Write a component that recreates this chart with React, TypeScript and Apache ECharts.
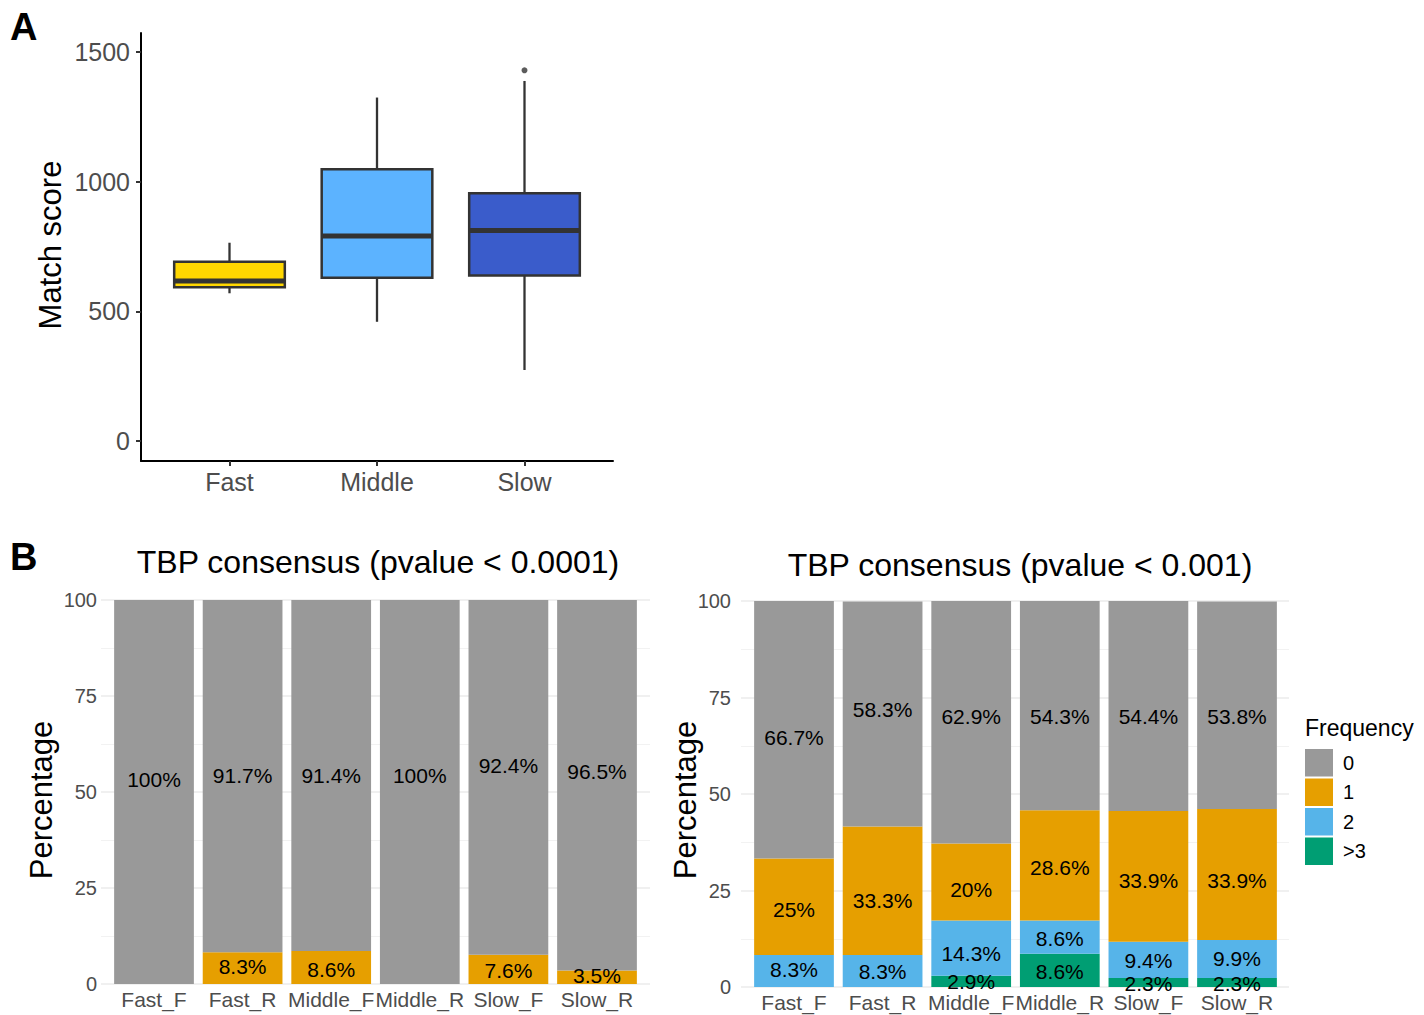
import React, { useEffect, useRef } from "react";
import * as echarts from "echarts";

// ---------- Panel A: box plot data ----------
const boxGroups = ["Fast", "Middle", "Slow"];
const boxMin = [570, 460, 274];
const boxQ1 = [593, 630, 639];
const boxMedian = [617, 791, 812];
const boxQ3 = [692, 1048, 956];
const boxMax = [765, 1325, 1389];
const boxColors = ["#FFD700", "#5CB3FF", "#3A5CCB"];
const outlierGroup = [3];
const outlierValue = [1430];
const scoreTicks = [0, 500, 1000, 1500];

// ---------- Panel B data ----------
const samples = ["Fast_F", "Fast_R", "Middle_F", "Middle_R", "Slow_F", "Slow_R"];
const freqLevels = ["0", "1", "2", ">3"];
const freqColors = ["#999999", "#E69F00", "#56B4E9", "#009E73"];
const percentTicks = [0, 25, 50, 75, 100];

// left: TBP consensus (pvalue < 0.0001)
const strict0 = [100, 91.7, 91.4, 100, 92.4, 96.5];
const strict1 = [0, 8.3, 8.6, 0, 7.6, 3.5];
const strictLabelY0 = [53.2, 54.2, 54.2, 54.2, 56.8, 55.3];
const strictLabelY1 = [null, 4.5, 3.8, null, 3.6, 2.3];

// right: TBP consensus (pvalue < 0.001)
const loose0 = [66.7, 58.3, 62.9, 54.3, 54.4, 53.8];
const loose1 = [25, 33.3, 20, 28.6, 33.9, 33.9];
const loose2 = [8.3, 8.3, 14.3, 8.6, 9.4, 9.9];
const loose3 = [0, 0, 2.9, 8.6, 2.3, 2.3];
const looseLabelY0 = [64.6, 72.0, 70.2, 70.2, 70.2, 70.2];
const looseLabelY1 = [20.1, 22.5, 25.2, 30.9, 27.7, 27.7];
const looseLabelY2 = [4.5, 3.9, 8.6, 12.5, 6.9, 7.3];
const looseLabelY3 = [null, null, 1.3, 3.9, 1.0, 1.0];

const FONT = "'Liberation Sans', Arial, Helvetica, sans-serif";
const AXIS_TEXT = "#4D4D4D";

function labelPoints(values: number[], ys: (number | null)[]) {
  const out: any[] = [];
  values.forEach((v, i) => {
    const y = ys[i];
    if (y !== null && v > 0) out.push([i, y, `${v}%`]);
  });
  return out;
}

function barSeries(name: string, data: number[], colorIdx: number, axis: number) {
  return {
    type: "bar",
    name,
    xAxisIndex: axis,
    yAxisIndex: axis,
    stack: "s" + axis,
    barWidth: "90%",
    data,
    itemStyle: { color: freqColors[colorIdx] },
    silent: true,
  };
}

function labelSeries(data: any[], axis: number) {
  return {
    type: "custom",
    xAxisIndex: axis,
    yAxisIndex: axis,
    data,
    silent: true,
    z: 10,
    encode: { x: 0, y: 1 },
    renderItem: (params: any, api: any) => {
      const p = api.coord([api.value(0), api.value(1)]);
      return {
        type: "text",
        x: p[0],
        y: p[1],
        style: {
          text: data[params.dataIndex][2],
          fontSize: 21,
          fontFamily: FONT,
          fill: "#000",
          align: "center",
          verticalAlign: "middle",
        },
      };
    },
  };
}

function bgYAxis(grid: number, margin: number) {
  return {
    type: "value",
    gridIndex: grid,
    min: 0,
    max: 100,
    interval: 25,
    axisLine: { show: false },
    axisTick: { show: false },
    axisLabel: { fontSize: 20, color: AXIS_TEXT, fontFamily: FONT, margin },
    splitLine: { show: true, lineStyle: { color: "#EBEBEB", width: 1.6 } },
    minorTick: { show: false, splitNumber: 2 },
    minorSplitLine: { show: true, lineStyle: { color: "#F0F0F0", width: 0.9 } },
  };
}

function hiddenValueAxis(grid: number) {
  return { type: "value", gridIndex: grid, min: 0, max: 1, show: false };
}

function barXAxis(grid: number, margin: number) {
  return {
    type: "category",
    gridIndex: grid,
    data: samples,
    boundaryGap: true,
    axisLine: { show: false },
    axisTick: { show: false },
    axisLabel: { interval: 0, fontSize: 21, color: AXIS_TEXT, fontFamily: FONT, margin },
    splitLine: { show: false },
  };
}

function barYAxis(grid: number) {
  return { type: "value", gridIndex: grid, min: 0, max: 100, show: false, splitLine: { show: false } };
}

function txt(text: string, x: number, y: number, fontSize: number, opts: any = {}) {
  return {
    type: "text",
    x,
    y,
    rotation: opts.rotation || 0,
    silent: true,
    style: {
      text,
      x: 0,
      y: 0,
      fontSize,
      fontFamily: FONT,
      fontWeight: opts.bold ? "bold" : "normal",
      fill: "#000",
      align: opts.align || "center",
      textAlign: opts.align || "center",
      verticalAlign: "middle",
      textVerticalAlign: "middle",
    },
  };
}

export default function App() {
  const ref = useRef<HTMLDivElement>(null);

  useEffect(() => {
    if (!ref.current) return;
    const chart = echarts.init(ref.current, undefined, { renderer: "svg" });

    const boxData = boxGroups.map((g, i) => [i + 1, boxMin[i], boxQ1[i], boxMedian[i], boxQ3[i], boxMax[i]]);
    const outlierData = outlierGroup.map((g, i) => [g, outlierValue[i]]);

    const option: any = {
      animation: false,
      backgroundColor: "#fff",
      textStyle: { fontFamily: FONT },
      grid: [
        { left: 141, top: 33, width: 472, height: 428, containLabel: false, outerBoundsMode: "none" },
        { left: 101, top: 600, width: 549, height: 384, containLabel: false, outerBoundsMode: "none" },
        { left: 109.7, top: 600, width: 531.6, height: 384, containLabel: false, outerBoundsMode: "none" },
        { left: 741, top: 601, width: 548, height: 386, containLabel: false, outerBoundsMode: "none" },
        { left: 749.7, top: 601, width: 531.6, height: 386, containLabel: false, outerBoundsMode: "none" },
      ],
      xAxis: [
        {
          type: "value",
          gridIndex: 0,
          min: 0.4,
          max: 3.6,
          axisLine: { show: true, onZero: false, lineStyle: { color: "#000", width: 2 } },
          axisTick: { show: true, customValues: [1, 2, 3], length: 5, lineStyle: { color: "#333", width: 2 } },
          axisLabel: {
            customValues: [1, 2, 3],
            formatter: (v: number) => boxGroups[Math.round(v) - 1] || "",
            fontSize: 25,
            color: AXIS_TEXT,
            fontFamily: FONT,
            margin: 8,
          },
          splitLine: { show: false },
        },
        hiddenValueAxis(1),
        barXAxis(2, 5),
        hiddenValueAxis(3),
        barXAxis(4, 5),
      ],
      yAxis: [
        {
          type: "value",
          gridIndex: 0,
          min: -77,
          max: 1574,
          axisLine: { show: true, lineStyle: { color: "#000", width: 2 } },
          axisTick: { show: true, customValues: scoreTicks, length: 5, lineStyle: { color: "#333", width: 2 } },
          axisLabel: {
            customValues: scoreTicks,
            formatter: (v: number) => String(v),
            fontSize: 25,
            color: AXIS_TEXT,
            fontFamily: FONT,
            margin: 11,
          },
          splitLine: { show: false },
        },
        bgYAxis(1, 4),
        barYAxis(2),
        bgYAxis(3, 10),
        barYAxis(4),
      ],
      legend: {
        data: freqLevels,
        orient: "vertical",
        left: 1305,
        top: 749,
        padding: 0,
        itemWidth: 28,
        itemHeight: 27.5,
        itemGap: 2,
        icon: "rect",
        selectedMode: false,
        textStyle: { fontSize: 20, color: "#000", fontFamily: FONT, padding: [0, 0, 0, 5] },
      },
      series: [
        {
          type: "custom",
          xAxisIndex: 0,
          yAxisIndex: 0,
          data: boxData,
          encode: { x: 0, y: [1, 2, 3, 4, 5] },
          silent: true,
          renderItem: (params: any, api: any) => {
            const x = api.value(0);
            const lo = api.coord([x, api.value(1)]);
            const q1 = api.coord([x, api.value(2)]);
            const med = api.coord([x, api.value(3)]);
            const q3 = api.coord([x, api.value(4)]);
            const hi = api.coord([x, api.value(5)]);
            const w = api.size([0.75, 0])[0];
            const stroke = "#333333";
            return {
              type: "group",
              children: [
                { type: "line", shape: { x1: hi[0], y1: hi[1], x2: q3[0], y2: q3[1] }, style: { stroke, lineWidth: 2.3 } },
                { type: "line", shape: { x1: q1[0], y1: q1[1], x2: lo[0], y2: lo[1] }, style: { stroke, lineWidth: 2.3 } },
                {
                  type: "rect",
                  shape: { x: q3[0] - w / 2, y: q3[1], width: w, height: q1[1] - q3[1] },
                  style: { fill: boxColors[params.dataIndex], stroke, lineWidth: 2.5 },
                },
                {
                  type: "line",
                  shape: { x1: med[0] - w / 2, y1: med[1], x2: med[0] + w / 2, y2: med[1] },
                  style: { stroke, lineWidth: 5 },
                },
              ],
            };
          },
        },
        {
          type: "scatter",
          xAxisIndex: 0,
          yAxisIndex: 0,
          data: outlierData,
          symbolSize: 6,
          itemStyle: { color: "#333333" },
          silent: true,
        },
        // Left stacked bars
        barSeries("1", strict1, 1, 2),
        barSeries("0", strict0, 0, 2),
        labelSeries([...labelPoints(strict0, strictLabelY0), ...labelPoints(strict1, strictLabelY1)], 2),
        // Right stacked bars
        barSeries(">3", loose3, 3, 4),
        barSeries("2", loose2, 2, 4),
        barSeries("1", loose1, 1, 4),
        barSeries("0", loose0, 0, 4),
        labelSeries(
          [
            ...labelPoints(loose0, looseLabelY0),
            ...labelPoints(loose1, looseLabelY1),
            ...labelPoints(loose2, looseLabelY2),
            ...labelPoints(loose3, looseLabelY3),
          ],
          4
        ),
      ],
      graphic: [
        txt("A", 10, 27, 38, { bold: true, align: "left" }),
        txt("B", 10, 557, 38, { bold: true, align: "left" }),
        txt("Match score", 50, 245, 31, { rotation: Math.PI / 2 }),
        txt("Percentage", 41, 800, 31, { rotation: Math.PI / 2 }),
        txt("Percentage", 685, 800, 31, { rotation: Math.PI / 2 }),
        txt("TBP consensus (pvalue < 0.0001)", 378, 562, 32),
        txt("TBP consensus (pvalue < 0.001)", 1020, 565, 32),
        txt("Frequency", 1305, 728, 23, { align: "left" }),
      ],
    };

    chart.setOption(option);
    return () => chart.dispose();
  }, []);

  return (
    <div
      ref={ref}
      style={{ position: "fixed", left: 0, top: 0, width: 1424, height: 1015, background: "#fff" }}
    />
  );
}
